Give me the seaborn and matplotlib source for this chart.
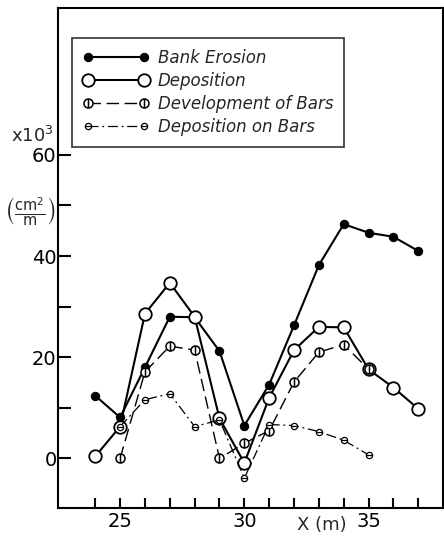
import matplotlib
matplotlib.use("Agg")
import matplotlib.pyplot as plt
from matplotlib.path import Path
import numpy as np
import pandas as pd
import seaborn as sns

# data (x in m, values x10^3 cm^2/m)
x_bank = [24, 25, 26, 27, 28, 29, 30, 31, 32, 33, 34, 35, 36, 37]
bank_erosion = [12.4, 8.1, 18.0, 28.0, 27.9, 21.2, 6.5, 14.6, 26.3, 38.2, 46.3, 44.6, 43.8, 41.0]

x_dep = [24, 25, 26, 27, 28, 29, 30, 31, 32, 33, 34, 35, 36, 37]
deposition = [0.4, 6.3, 28.6, 34.7, 28.0, 7.9, -0.9, 12.0, 21.4, 26.0, 25.9, 17.6, 14.0, 9.8]

x_dev = [25, 26, 27, 28, 29, 30, 31, 32, 33, 34, 35]
dev_bars = [0.0, 17.1, 22.2, 21.4, 0.0, 3.0, 5.5, 15.1, 21.0, 22.5, 17.6]

x_onbars = [25, 26, 27, 28, 29, 30, 31, 32, 33, 34, 35]
dep_on_bars = [6.3, 11.6, 12.8, 6.3, 7.6, -3.9, 6.7, 6.5, 5.3, 3.6, 0.7]

labels = ["Bank Erosion", "Deposition", "Development of Bars", "Deposition on Bars"]

sns.set_style("ticks")
plt.rcParams["font.family"] = ["DejaVu Sans"]

# circle markers with a line through them
circ = Path.unit_circle()
phi = Path.make_compound_path(circ, Path([(0, -1), (0, 1)], [Path.MOVETO, Path.LINETO]))
theta = Path.make_compound_path(circ, Path([(-1, 0), (1, 0)], [Path.MOVETO, Path.LINETO]))

fig = plt.figure(figsize=(4.44, 5.39), dpi=100)
ax = fig.add_axes([0.1306, 0.0575, 0.8674, 0.9275])

sns.lineplot(x=x_bank, y=bank_erosion, ax=ax, color="black", lw=1.5,
             marker="o", markersize=6, markerfacecolor="black", markeredgecolor="black",
             label=labels[0])
sns.lineplot(x=x_dep, y=deposition, ax=ax, color="black", lw=1.5,
             marker="o", markersize=9, markerfacecolor="white", markeredgecolor="black",
             markeredgewidth=1.3, label=labels[1])
sns.lineplot(x=x_dev, y=dev_bars, ax=ax, color="black", lw=1.0, dashes=False,
             linestyle=(0, (9, 4)), marker=phi, markersize=6.5, markerfacecolor="white",
             markeredgecolor="black", markeredgewidth=1.1, label=labels[2])
sns.lineplot(x=x_onbars, y=dep_on_bars, ax=ax, color="black", lw=0.9, dashes=False,
             linestyle=(0, (8, 3, 1.5, 3)), marker=theta, markersize=4.5, markerfacecolor="white",
             markeredgecolor="black", markeredgewidth=0.9, label=labels[3])

ax.set_xlim(22.5, 38.0)
ax.set_ylim(-9.8, 89)
ax.set_xticks([25, 30, 35])
ax.set_xticks([24, 26, 27, 28, 29, 31, 32, 33, 34, 36, 37], minor=True)
ax.set_yticks([0, 20, 40, 60])
ax.set_yticks([10, 30, 50], minor=True)
ax.tick_params(axis="both", which="both", direction="in", width=1.5, colors="black",
               labelsize=14)
ax.tick_params(axis="y", which="both", length=9, pad=1)
ax.tick_params(axis="x", which="both", length=7, pad=3)
ax.set_xlabel("")
ax.set_ylabel("")
for s in ax.spines.values():
    s.set_visible(True)
    s.set_linewidth(1.5)
    s.set_color("black")

leg = ax.legend(loc="upper left", bbox_to_anchor=(0.036, 0.94), borderaxespad=0,
                numpoints=2, handlelength=4, fancybox=False, frameon=True,
                prop={"style": "italic", "size": 12}, labelspacing=0.3,
                handletextpad=0.5, borderpad=0.65)
leg.get_frame().set_edgecolor("black")
leg.get_frame().set_linewidth(1.2)

fig.text(0.025, 1 - 136 / 539, "x10$^3$", fontsize=13, ha="left", va="center")
fig.text(0.01, 1 - 212 / 539, r"$\left(\frac{\mathrm{cm}^2}{\mathrm{m}}\right)$",
         fontsize=15, ha="left", va="center")
fig.text(322 / 444, 1 - 525 / 539, "X (m)", fontsize=13, ha="center", va="center")

fig.savefig("out.png", dpi=100)
